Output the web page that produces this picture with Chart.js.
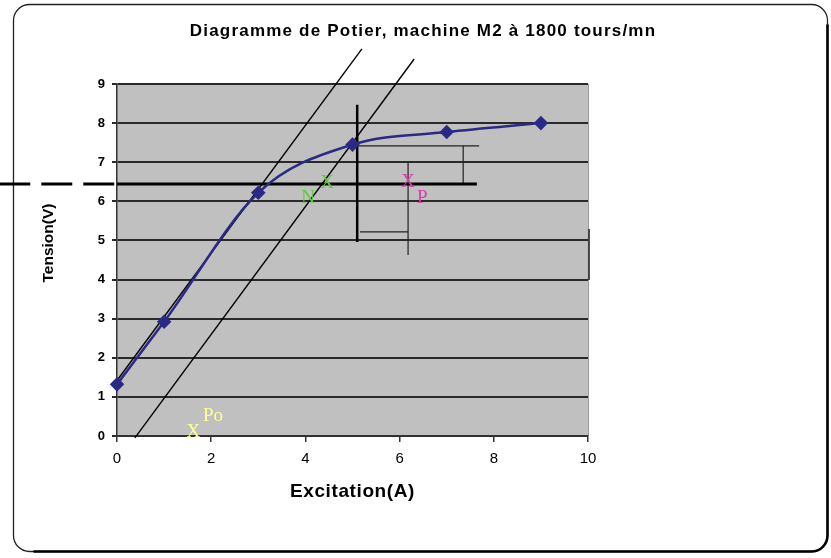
<!DOCTYPE html>
<html>
<head>
<meta charset="utf-8">
<script src="https://cdn.jsdelivr.net/npm/chart.js@4.4.1/dist/chart.umd.min.js"></script>
<style>
html,body{margin:0;padding:0;background:#fff;}
#wrap{width:831px;height:558px;position:relative;}
</style>
</head>
<body>
<div id="wrap"><canvas id="c" width="831" height="558"></canvas></div>
<script>
// ---- Data ----
const excitation = [0, 1, 3, 5, 7, 9];
const tension = [1.32, 2.92, 6.22, 7.45, 7.77, 8.0];

const xTickValues = [0, 2, 4, 6, 8, 10];
const yTickValues = [0, 1, 2, 3, 4, 5, 6, 7, 8, 9];

// construction lines (data units)
const droite1X = [0, 5.2],      droite1Y = [1.42, 9.9];
const droite2X = [0.38, 6.31],  droite2Y = [-0.05, 9.64];
const horizX = [0, 7.64],       horizY = [6.44, 6.44];
const horizDashX = [-2.5, 0],   horizDashY = [6.44, 6.44];
const vertX = [5.1, 5.1],       vertY = [8.47, 4.96];
const hautX = [5.1, 7.69],      hautY = [7.42, 7.42];
const droitX = [7.35, 7.35],    droitY = [7.42, 6.44];
const vertPX = [6.18, 6.18],    vertPY = [6.98, 4.63];
const basX = [5.16, 6.18],      basY = [5.22, 5.22];
const bordX = [10.02, 10.02],   bordY = [5.29, 3.99];

// point labels
const lettres = ['N', 'X', 'X', 'P', 'X', 'Po'];
const lettresX = [4.06, 4.46, 6.18, 6.48, 1.62, 2.04];
const lettresY = [6.09, 6.47, 6.5, 6.09, 0.1, 0.51];
const lettresCouleur = ['#5ccc3c', '#5ccc3c', '#d040a8', '#d040a8', '#ffff99', '#ffff99'];

const titre = 'Diagramme de Potier, machine M2 à 1800 tours/mn';
const titreX = 'Excitation(A)';
const titreY = 'Tension(V)';

function pts(xs, ys) { return xs.map((x, i) => ({x: x, y: ys[i]})); }
function seg(xs, ys, opts) {
  return Object.assign({
    data: pts(xs, ys), showLine: true, pointRadius: 0, pointHoverRadius: 0,
    borderColor: '#000', borderWidth: 1.4, clip: false, order: 2, tension: 0
  }, opts || {});
}

const fondPlugin = {
  id: 'fond',
  beforeDraw(chart) {
    const ctx = chart.ctx, a = chart.chartArea;
    ctx.save();
    ctx.fillStyle = '#fff';
    ctx.fillRect(0, 0, chart.width, chart.height);
    // outer rounded border: thin top/left, heavy bottom/right
    const L = 13.5, T = 4.5, R = 827.5, B = 551.5, r = 16;
    ctx.strokeStyle = '#222'; ctx.lineWidth = 1.3;
    ctx.beginPath();
    ctx.roundRect(L, T, R - L, B - T, r);
    ctx.stroke();
    ctx.strokeStyle = '#000'; ctx.lineWidth = 2.6;
    ctx.beginPath();
    ctx.moveTo(R, T + r + 4);
    ctx.lineTo(R, B - r);
    ctx.arcTo(R, B, R - r, B, r);
    ctx.lineTo(L + r + 4, B);
    ctx.stroke();
    ctx.restore();
    ctx.save();
    ctx.fillStyle = '#c0c0c0';
    ctx.fillRect(a.left, a.top, a.right - a.left, a.bottom - a.top);
    ctx.strokeStyle = '#9a9a9a'; ctx.lineWidth = 1;
    ctx.beginPath();
    ctx.moveTo(a.right + 0.5, a.top); ctx.lineTo(a.right + 0.5, a.bottom);
    ctx.moveTo(a.left, a.top + 0.5); ctx.lineTo(a.right, a.top + 0.5);
    ctx.stroke();
    ctx.restore();
  },
  afterDatasetsDraw(chart) {
    const ctx = chart.ctx, xs = chart.scales.x, ys = chart.scales.y, a = chart.chartArea;
    ctx.save();
    ctx.textAlign = 'center'; ctx.textBaseline = 'middle';
    ctx.font = '19px "Liberation Serif", "Times New Roman", serif';
    lettres.forEach((t, i) => {
      ctx.fillStyle = lettresCouleur[i];
      ctx.fillText(t, xs.getPixelForValue(lettresX[i]), ys.getPixelForValue(lettresY[i]));
    });
    // title
    ctx.fillStyle = '#000';
    ctx.font = 'bold 17px "Liberation Sans", Arial, sans-serif';
    ctx.letterSpacing = '1.2px';
    ctx.fillText(titre, 423, 31);
    ctx.letterSpacing = '0.6px';
    ctx.font = 'bold 19px "Liberation Sans", Arial, sans-serif';
    ctx.fillText(titreX, (a.left + a.right) / 2, 492);
    ctx.letterSpacing = '0px';
    ctx.translate(49, 243);
    ctx.rotate(-Math.PI / 2);
    ctx.font = 'bold 15.5px "Liberation Sans", Arial, sans-serif';
    ctx.fillText(titreY, 0, 0);
    ctx.restore();
  }
};

new Chart(document.getElementById('c'), {
  type: 'scatter',
  data: {
    datasets: [
      {
        data: pts(excitation, tension), showLine: true,
        borderColor: '#2a2a86', backgroundColor: '#2a2a86', borderWidth: 2.5,
        pointStyle: 'rectRot', pointRadius: 5.5, pointBackgroundColor: '#2a2a86',
        pointBorderColor: '#2a2a86', cubicInterpolationMode: 'monotone', order: 0, clip: false
      },
      seg(droite1X, droite1Y),
      seg(droite2X, droite2Y),
      seg(horizX, horizY, {borderWidth: 3}),
      seg(horizDashX, horizDashY, {borderWidth: 3, borderDash: [31, 11]}),
      seg(vertX, vertY, {borderWidth: 2.5}),
      seg(hautX, hautY, {borderWidth: 1.2, borderColor: '#222'}),
      seg(droitX, droitY, {borderWidth: 1.2, borderColor: '#222'}),
      seg(vertPX, vertPY, {borderWidth: 1.2, borderColor: '#222'}),
      seg(basX, basY, {borderWidth: 1.2, borderColor: '#222'}),
      seg(bordX, bordY, {borderWidth: 2, borderColor: '#444'})
    ]
  },
  options: {
    responsive: false,
    animation: false,
    devicePixelRatio: 1,
    layout: {padding: {left: 0, right: 243, top: 84, bottom: 0}},
    plugins: {legend: {display: false}, tooltip: {enabled: false}, title: {display: false}},
    scales: {
      x: {
        type: 'linear', min: 0, max: 10,
        afterFit(s) { s.height = 122; },
        afterBuildTicks(s) { s.ticks = xTickValues.map(v => ({value: v})); },
        grid: {drawOnChartArea: false, drawTicks: true, tickLength: 6, color: '#333', lineWidth: 1.5},
        border: {display: true, color: '#333', width: 1.5},
        ticks: {color: '#000', padding: 8,
          font: {family: '"Liberation Sans Narrow", "Liberation Sans", Arial', size: 15}}
      },
      y: {
        type: 'linear', min: 0, max: 9,
        afterFit(s) { s.width = 117; },
        afterBuildTicks(s) { s.ticks = yTickValues.map(v => ({value: v})); },
        grid: {drawOnChartArea: true, drawTicks: true, tickLength: 5, color: '#2a2a2a', lineWidth: 2},
        border: {display: true, color: '#333', width: 1.5},
        ticks: {color: '#000', padding: 7,
          font: {family: '"Liberation Sans Narrow", "Liberation Sans", Arial', size: 13, weight: 'bold'}}
      }
    }
  },
  plugins: [fondPlugin]
});
</script>
</body>
</html>
